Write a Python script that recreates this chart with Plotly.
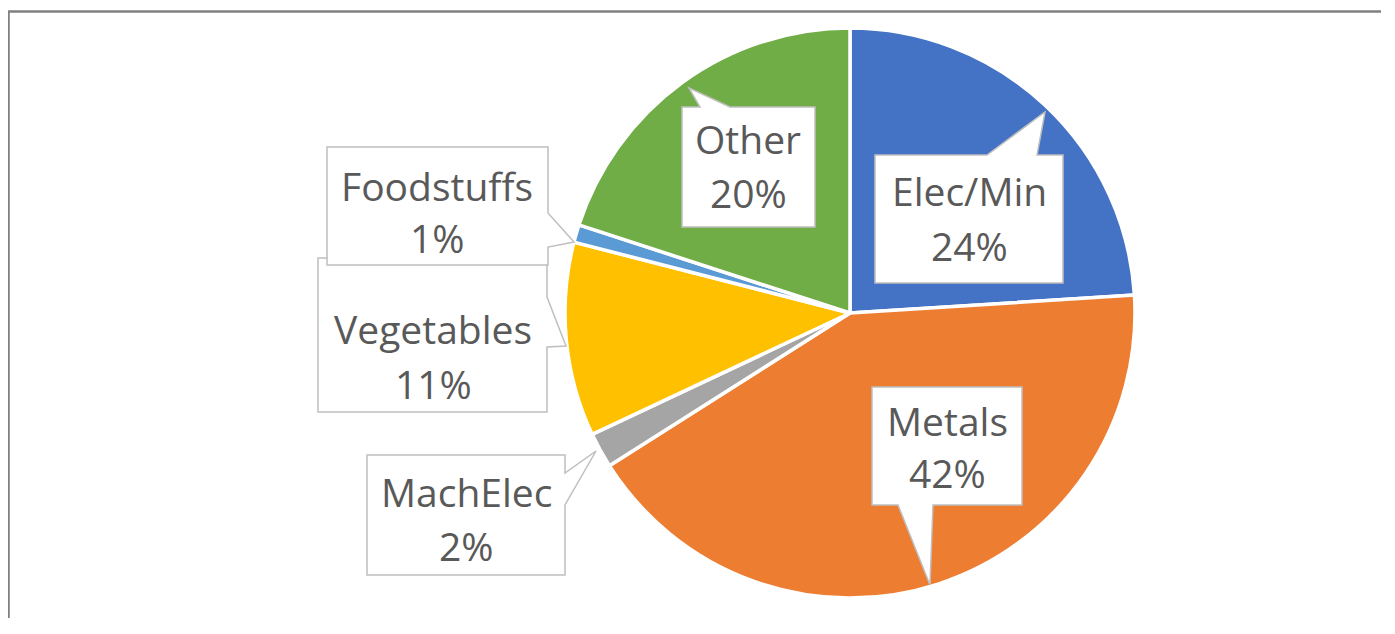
'''Pie chart with callout labels'''

import plotly.graph_objects as go

# data
categories = ["Elec/Min", "Metals", "MachElec", "Vegetables", "Foodstuffs", "Other"]
shares = [24, 42, 2, 11, 1, 20]
colors = ["#4472C4", "#ED7D31", "#A5A5A5", "#FFC000", "#5B9BD5", "#70AD47"]

# callout boxes in page pixels: (left, top, right, bottom), pointer polygon, text centre
OFF = 8  # the page body adds an 8px margin around the plot
W, H = 1395 - 2 * OFF - 6, 634 - 2 * OFF - 8  # keep the page free of scrollbars
boxes = {
    "Elec/Min": ((875, 155, 1063, 283), [(987, 155), (1045, 112), (1037, 155)], (969, 190, 245)),
    "Metals": ((872, 387, 1022, 505), [(933, 505), (930, 585), (898, 505)], (947, 420, 472)),
    "MachElec": ((367, 455, 565, 575), [(565, 473), (596, 451), (565, 505)], (466, 491, 545)),
    "Vegetables": ((318, 258, 547, 412), [(547, 297), (566, 346), (547, 347)], (433, 328, 383)),
    "Foodstuffs": ((327, 147, 548, 265), [(548, 213), (574, 242), (548, 247)], (437, 185, 237)),
    "Other": ((682, 107, 815, 227), [(730, 107), (689, 88), (700, 107)], (748, 138, 192)),
}

cx, cy, r = 850, 313, 285

fig = go.Figure()
fig.add_trace(go.Pie(
    labels=categories,
    values=shares,
    sort=False,
    direction="clockwise",
    rotation=0,
    textinfo="none",
    hoverinfo="label+percent",
    marker=dict(colors=colors, line=dict(color="white", width=3.5)),
    domain=dict(x=[(cx - r - OFF) / W, (cx + r - OFF) / W],
                y=[1 - (cy + r - OFF) / H, 1 - (cy - r - OFF) / H]),
    showlegend=False,
))


def box_path(rect, pointer):
    '''outline of a callout box with its pointer wedge, in pixel units'''
    x0, y0, x1, y1 = rect
    p = pointer
    if p[0][1] == y0 and p[2][1] == y0:  # top side
        a, b = sorted([p[0], p[2]], key=lambda q: q[0])
        pts = [(x0, y0), a, p[1], b, (x1, y0), (x1, y1), (x0, y1)]
    elif p[0][1] == y1 and p[2][1] == y1:  # bottom side
        a, b = sorted([p[0], p[2]], key=lambda q: -q[0])
        pts = [(x0, y0), (x1, y0), (x1, y1), a, p[1], b, (x0, y1)]
    else:  # right side
        a, b = sorted([p[0], p[2]], key=lambda q: q[1])
        pts = [(x0, y0), (x1, y0), a, p[1], b, (x1, y1), (x0, y1)]
    return "M " + " L ".join("%g,%g" % q for q in pts) + " Z"


shapes = []
annotations = []
total = sum(shares)
for name, value in zip(categories, shares):
    rect, pointer, (tx, ty1, ty2) = boxes[name]
    shapes.append(dict(
        type="path", xref="x", yref="y", path=box_path(rect, pointer),
        fillcolor="white", line=dict(color="#BFBFBF", width=1.5), layer="above",
    ))
    pct = "%d%%" % round(100 * value / total)
    for txt, ty in ((name, ty1), (pct, ty2)):
        annotations.append(dict(
            x=tx, y=ty, xref="x", yref="y", text=txt, showarrow=False,
            xanchor="center", yanchor="middle",
            font=dict(family="Open Sans", size=39, color="#595959"),
        ))

# outer frame: only its top and left edges are inside the picture
shapes.append(dict(
    type="path", xref="x", yref="y",
    path="M %g,11.5 L 8.5,11.5 L 8.5,%g" % (W + OFF + 20, H + OFF + 20),
    line=dict(color="#808080", width=2.5), layer="above",
))

fig.update_layout(
    width=W, height=H,
    margin=dict(l=0, r=0, t=0, b=0),
    paper_bgcolor="white", plot_bgcolor="rgba(0,0,0,0)",
    xaxis=dict(range=[OFF, W + OFF], visible=False, fixedrange=True),
    yaxis=dict(range=[H + OFF, OFF], visible=False, fixedrange=True),
    shapes=shapes,
    annotations=annotations,
)

fig.write_html("out.html")
